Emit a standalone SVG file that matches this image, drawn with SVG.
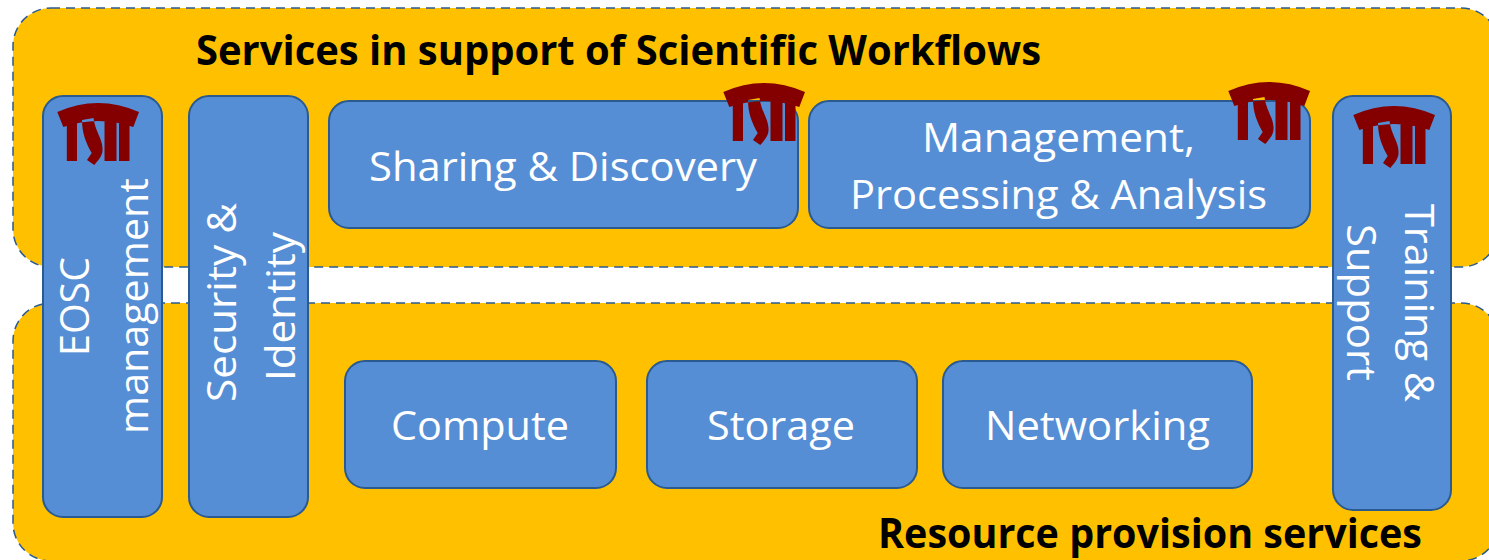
<svg xmlns="http://www.w3.org/2000/svg" width="1489" height="560" viewBox="0 0 1489 560">
<style>
.layer{fill:#ffc000;stroke:#2a5a90;stroke-width:1.5;stroke-dasharray:9 6}
.box{fill:#558ed5;stroke:#2a5a90;stroke-width:2}
text{font-family:"Open Sans","Liberation Sans",sans-serif}
.t{fill:#fff;font-size:40px}
.h{fill:#000;font-size:41px;font-weight:700}
</style>
<defs>
<symbol id="logo" overflow="visible" width="82" height="62" viewBox="0 0 82 62">
<path fill="#840000" d="M0.3,9 Q41,-9 82,9 L76.3,24 Q41,12 6.3,24 Z M9.8,22 L20,19 L20,58 L9.8,58 Z M25,17 C25,30 29,40 34.7,50 L30,57 L37.3,62 C43,55 46,52 45.5,45 C45,35 38,28 36.5,15 Z M47.5,15 L59.5,15 L59.5,58 L47.5,58 Z M62,19 L72.5,23 L72.5,58 L62,58 Z"/>
</symbol>
</defs>
<g id="workflow-layer">
<rect class="layer" x="13" y="8" width="1486" height="259" rx="38"/>
<text class="h" x="196" y="65" textLength="845" lengthAdjust="spacingAndGlyphs">Services in support of Scientific Workflows</text>
</g>
<g id="resource-layer">
<rect class="layer" x="13" y="303" width="1486" height="258" rx="38"/>
<text class="h" x="878" y="548" textLength="544" lengthAdjust="spacingAndGlyphs">Resource provision services</text>
</g>
<g id="eosc-management">
<rect class="box" x="43" y="96" width="119" height="421" rx="20"/>
<text class="t" transform="translate(89,356) rotate(-90)" textLength="99" lengthAdjust="spacingAndGlyphs">EOSC</text>
<text class="t" transform="translate(148,434) rotate(-90)" textLength="256" lengthAdjust="spacingAndGlyphs">management</text>
<use href="#logo" x="57" y="103" width="82" height="62"/>
</g>
<g id="security-identity">
<rect class="box" x="189" y="96" width="119" height="421" rx="20"/>
<text class="t" transform="translate(236,402) rotate(-90)" textLength="199" lengthAdjust="spacingAndGlyphs">Security &amp;</text>
<text class="t" transform="translate(295,381) rotate(-90)" textLength="149" lengthAdjust="spacingAndGlyphs">Identity</text>
</g>
<g id="sharing-discovery">
<rect class="box" x="329" y="101" width="469" height="127" rx="20"/>
<text class="t" x="369" y="181" textLength="388" lengthAdjust="spacingAndGlyphs">Sharing &amp; Discovery</text>
<use href="#logo" x="723" y="83" width="82" height="62"/>
</g>
<g id="management-processing">
<rect class="box" x="809" y="101" width="501" height="127" rx="20"/>
<text class="t" x="922" y="152" textLength="273" lengthAdjust="spacingAndGlyphs">Management,</text>
<text class="t" x="850" y="209" textLength="417" lengthAdjust="spacingAndGlyphs">Processing &amp; Analysis</text>
<use href="#logo" x="1228" y="82" width="82" height="62"/>
</g>
<g id="training-support">
<rect class="box" x="1333" y="96" width="118" height="414" rx="20"/>
<text class="t" transform="translate(1405,204) rotate(90)" textLength="198" lengthAdjust="spacingAndGlyphs">Training &amp;</text>
<text class="t" transform="translate(1347,224) rotate(90)" textLength="157" lengthAdjust="spacingAndGlyphs">Support</text>
<use href="#logo" x="1353" y="106" width="82" height="62"/>
</g>
<g id="compute">
<rect class="box" x="345" y="361" width="271" height="127" rx="20"/>
<text class="t" x="391" y="440" textLength="178" lengthAdjust="spacingAndGlyphs">Compute</text>
</g>
<g id="storage">
<rect class="box" x="647" y="361" width="270" height="127" rx="20"/>
<text class="t" x="707" y="440" textLength="148" lengthAdjust="spacingAndGlyphs">Storage</text>
</g>
<g id="networking">
<rect class="box" x="943" y="361" width="309" height="127" rx="20"/>
<text class="t" x="985" y="440" textLength="225" lengthAdjust="spacingAndGlyphs">Networking</text>
</g>
</svg>
